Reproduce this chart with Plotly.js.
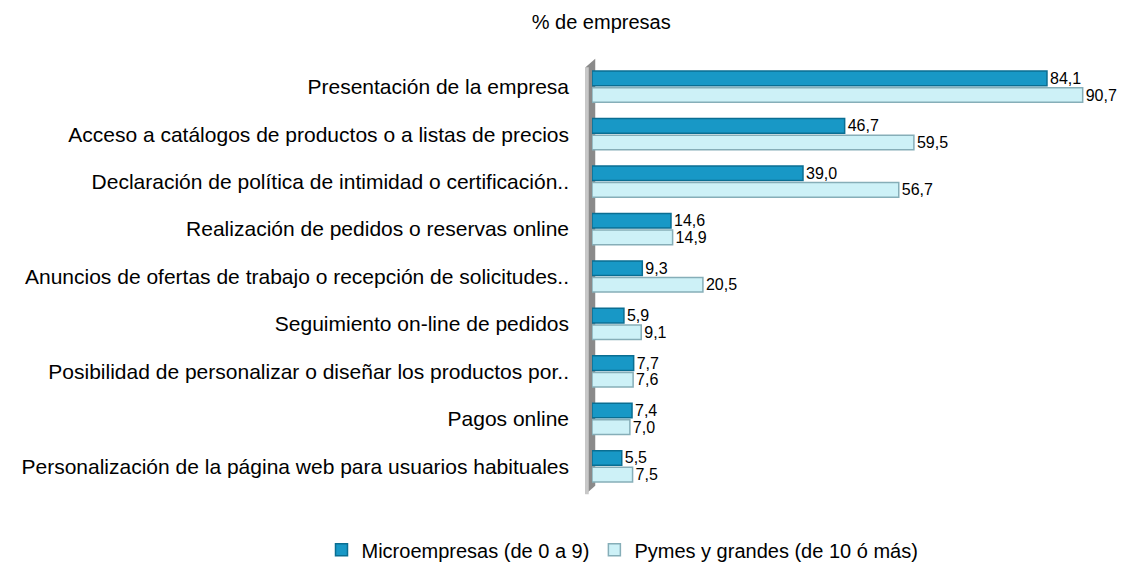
<!DOCTYPE html>
<html><head><meta charset="utf-8">
<script src="https://cdn.plot.ly/plotly-3.0.1.min.js"></script>
<style>body{margin:0;background:#fff}#c{width:1143px;height:563px}</style>
</head><body><div id="c"></div>
<script>
const categories = [
  "Presentación de la empresa",
  "Acceso a catálogos de productos o a listas de precios",
  "Declaración de política de intimidad o certificación..",
  "Realización de pedidos o reservas online",
  "Anuncios de ofertas de trabajo o recepción de solicitudes..",
  "Seguimiento on-line de pedidos",
  "Posibilidad de personalizar o diseñar los productos por..",
  "Pagos online",
  "Personalización de la página web para usuarios habituales"
];
const microValues = [84.1, 46.7, 39.0, 14.6, 9.3, 5.9, 7.7, 7.4, 5.5];
const pymesValues = [90.7, 59.5, 56.7, 14.9, 20.5, 9.1, 7.6, 7.0, 7.5];
const seriesNames = ["Microempresas (de 0 a 9)", "Pymes y grandes (de 10 ó más)"];

const font = {family: "Liberation Sans, Arial, sans-serif", color: "#000"};
const traces = [
  {type: "bar", orientation: "h", name: seriesNames[0], y: categories, x: microValues,
   marker: {color: "#1898c6", line: {color: "#0a6e92", width: 1.5}},
   texttemplate: "%{x:.1f}", textposition: "outside", cliponaxis: false, constraintext: "none",
   textfont: Object.assign({size: 16}, font)},
  {type: "bar", orientation: "h", name: seriesNames[1], y: categories, x: pymesValues,
   marker: {color: "#cdf1f7", line: {color: "#86aeb8", width: 1.5}},
   texttemplate: "%{x:.1f}", textposition: "outside", cliponaxis: false, constraintext: "none",
   textfont: Object.assign({size: 16}, font)}
];
const layout = {
  width: 1143, height: 563,
  margin: {l: 592, r: 10, t: 63, b: 73, autoexpand: false},
  separators: ",.",
  paper_bgcolor: "#fff", plot_bgcolor: "#fff",
  font: Object.assign({size: 19}, font),
  title: {text: "% de empresas", font: Object.assign({size: 20}, font),
          xref: "container", yref: "container", x: 0.526, y: 0.961, xanchor: "center", yanchor: "middle"},
  barmode: "group", bargap: 0.3, bargroupgap: 0.12,
  xaxis: {range: [0, 100], showgrid: false, zeroline: false, showticklabels: false, showline: false, ticks: ""},
  yaxis: {autorange: "reversed", showgrid: false, zeroline: false, showline: false, ticks: "",
          ticklabelstandoff: 22, tickfont: Object.assign({size: 21}, font)},
  showlegend: true,
  legend: {orientation: "h", x: -0.50, xanchor: "left", y: -0.14, yanchor: "middle",
           font: Object.assign({size: 20}, font), traceorder: "normal", itemwidth: 30},
  shapes: [
    {type: "path", xref: "paper", yref: "paper", layer: "below",
     path: "M -0.012 0.99 L 0.006 1.01 L 0.006 0.01 L -0.012 -0.01 Z",
     fillcolor: "#8a8a8a", line: {width: 0}},
    {type: "path", xref: "paper", yref: "paper", layer: "below",
     path: "M -0.012 0.99 L -0.006 0.99 L -0.006 -0.01 L -0.012 -0.01 Z",
     fillcolor: "#c8c8c8", line: {width: 0}}
  ]
};
Plotly.newPlot("c", traces, layout, {displayModeBar: false, staticPlot: true});
</script></body></html>
